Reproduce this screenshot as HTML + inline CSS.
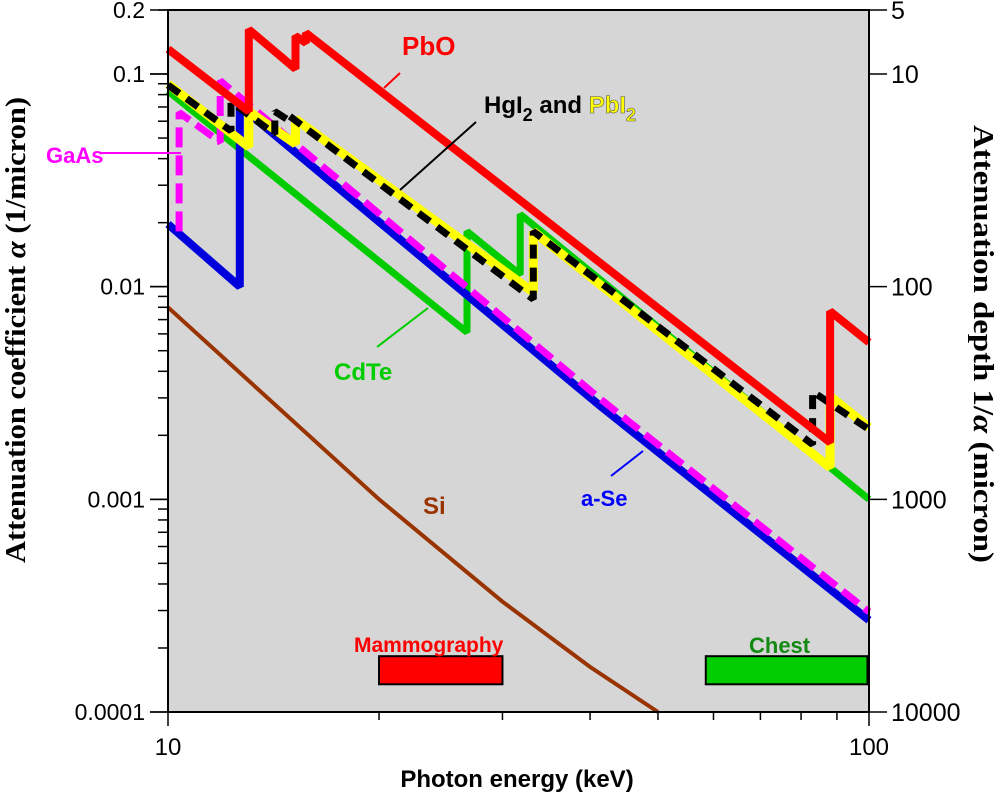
<!DOCTYPE html>
<html><head><meta charset="utf-8"><style>
body{margin:0;background:#fff;}
svg{display:block;}
text{font-family:"Liberation Sans",sans-serif;}
</style></head><body>
<svg id="chart" width="1000" height="796" viewBox="0 0 1000 796" xmlns="http://www.w3.org/2000/svg">
<rect x="168" y="10" width="701" height="702" fill="#d6d6d6"/>
<g id="marks"></g>
<rect x="168" y="10" width="701" height="702" fill="none" stroke="#000" stroke-width="2"/>
<g id="axes"></g>
<text x="517" y="787" font-size="24" font-weight="bold" text-anchor="middle">Photon energy (keV)</text>
<text transform="translate(25,330) rotate(-90)" font-size="29" font-weight="bold" text-anchor="middle" textLength="466" lengthAdjust="spacingAndGlyphs" style="font-family:'Liberation Serif',serif">Attenuation coefficient  <tspan font-style="italic">α</tspan>  (1/micron)</text>
<text transform="translate(974,344) rotate(90)" font-size="29" font-weight="bold" text-anchor="middle" textLength="438" lengthAdjust="spacingAndGlyphs" style="font-family:'Liberation Serif',serif">Attenuation depth  1/<tspan font-style="italic">α</tspan>  (micron)</text>
<g id="labels" font-weight="bold" font-size="24">
<line x1="400" y1="73" x2="384" y2="88" stroke="#f00" stroke-width="2"/>
<text x="402" y="55" fill="#f00" font-size="26">PbO</text>
<line x1="476" y1="122" x2="400" y2="190" stroke="#000" stroke-width="2"/>
<text x="484" y="113">HgI<tspan font-size="18" dy="8">2</tspan><tspan dy="-8"> and </tspan><tspan fill="#ff0" stroke="#555" stroke-width="0.6">PbI<tspan font-size="18" dy="8">2</tspan></tspan></text>
<line x1="100" y1="153" x2="181" y2="153" stroke="#f0f" stroke-width="2"/>
<text x="46" y="163" fill="#f0f" font-size="22">GaAs</text>
<line x1="377" y1="347" x2="428" y2="308" stroke="#00cc00" stroke-width="2"/>
<text x="334" y="380" fill="#00cc00">CdTe</text>
<line x1="611" y1="476" x2="643" y2="451" stroke="#00f" stroke-width="2"/>
<text x="581" y="506" fill="#00f" font-size="22">a-Se</text>
<text x="423" y="514" fill="#993300">Si</text>
<text x="354" y="652" fill="#f00" font-size="21">Mammography</text>
<text x="749" y="653" fill="#138a13" font-size="22">Chest</text>
</g>
</svg>
<script>
const x0=168,x1=869,yTop=10,yBot=712;
const xMin=10,xMax=100,yMin=0.0001,yMax=0.2;
const xTickLabels=["10","100"];
const yTickVals=[0.2,0.1,0.01,0.001,0.0001];
const yTickLabels=["0.2","0.1","0.01","0.001","0.0001"];
const rightTickLabels=["5","10","100","1000","10000"];
const pboE=[10,13.04,13.04,15.2,15.2,15.73,15.73,88,88,100];
const pboA=[0.131,0.0667,0.162,0.1057,0.151,0.140,0.156,0.00185,0.00766,0.00547];
const cdteE=[10,26.7,26.7,31.8,31.8,100];
const cdteA=[0.0832,0.0061,0.0182,0.0114,0.0219,0.001];
const seE=[10,12.66,12.66,41.3,100];
const seA=[0.0197,0.01,0.0708,0.00276,0.00027];
const gaasE=[10.37,10.37,11.87,11.87,41.3,100];
const gaasA=[0.0182,0.066,0.0478,0.093,0.00298,0.000296];
const pbi2E=[10,13.04,13.04,15.2,15.2,33.2,33.2,88,88,100];
const pbi2A=[0.0897,0.0454,0.0667,0.0469,0.0614,0.00942,0.0182,0.00141,0.00305,0.00218];
const hgi2E=[10,12.3,12.3,14.2,14.2,14.84,14.84,33.2,33.2,83.1,83.1,100];
const hgi2A=[0.0887,0.054,0.074,0.0522,0.0667,0.0608,0.0641,0.00873,0.0182,0.00181,0.00321,0.00213];
const siE=[10,20,30,40,50];
const siA=[0.008,0.001,0.00033,0.000163,0.0001];
const mammoRange=[20,30];
const chestRange=[58.5,99.5];
const bandA=[0.000135,0.000183];
function xs(e){return x0+(x1-x0)*Math.log10(e/xMin)/Math.log10(xMax/xMin);}
function ys(a){return yBot-(yBot-yTop)*Math.log10(a/yMin)/Math.log10(yMax/yMin);}
const NS="http://www.w3.org/2000/svg";
const marks=document.getElementById('marks'),axes=document.getElementById('axes');
function mk(tag,attrs,parent){const el=document.createElementNS(NS,tag);for(const k in attrs)el.setAttribute(k,attrs[k]);parent.appendChild(el);return el;}
function line(E,A,name,color,w,dash){
  const d=E.map((e,i)=>(i?'L':'M')+xs(e).toFixed(1)+','+ys(A[i]).toFixed(1)).join(' ');
  const p=mk('path',{d:d,fill:'none',stroke:color,'stroke-width':w,'stroke-linejoin':'miter','stroke-miterlimit':'2'},marks);
  if(dash)p.setAttribute('stroke-dasharray',dash);
  
  
}
function band(r,name,color){
  const xa=xs(r[0]),xb=xs(r[1]),ya=ys(bandA[1]),yb=ys(bandA[0]);
  const b=mk('rect',{x:xa,y:ya,width:xb-xa,height:yb-ya,fill:color,stroke:'#000','stroke-width':2},marks);
  
  
}
line(siE,siA,'si-line','#993300',4);
line(cdteE,cdteA,'cdte-line','#00cc00',7);
line(seE,seA,'ase-line','#0000dd',8);
line(gaasE,gaasA,'gaas-line','#ff00ff',7,'20 8');
line(pbi2E,pbi2A,'pbi2-line','#ffff00',9);
line(hgi2E,hgi2A,'hgi2-line','#000000',7,'14 9');
line(pboE,pboA,'pbo-line','#ff0000',8);
band(mammoRange,'mammography-band','#ff0000');
band(chestRange,'chest-band','#00cc00');
for(let d=10;d<=100;d+=10){
  const x=xs(d),major=(d===10||d===100);
  const t=mk('line',{x1:x,y1:yBot,x2:x,y2:yBot+(major?14:8),stroke:'#000','stroke-width':1.5},axes);
  
  
}
xTickLabels.forEach((s,i)=>{
  const t=mk('text',{x:xs([10,100][i]),y:755,'font-size':24,'text-anchor':'middle'},axes);t.textContent=s;
  
  
});
for(let p=-4;p<0;p++){for(let k=1;k<=9;k++){const v=k*Math.pow(10,p);if(v>yMax+1e-9)continue;
  const y=ys(v);const t=mk('line',{x1:x0,y1:y,x2:x0-(k===1?18:10),y2:y,stroke:'#000','stroke-width':1.5},axes);
  
  }}
yTickVals.forEach((v,i)=>{
  const y=ys(v);
  const tl=mk('line',{x1:x0-18,y1:y,x2:x0,y2:y,stroke:'#000','stroke-width':1.5},axes);
  
  
  const t=mk('text',{x:145,y:y+8,'font-size':23,'text-anchor':'end'},axes);t.textContent=yTickLabels[i];
  
  
  const tr=mk('line',{x1:x1,y1:y,x2:x1+18,y2:y,stroke:'#000','stroke-width':1.5},axes);
  
  
  const r=mk('text',{x:891,y:y+9,'font-size':25},axes);r.textContent=rightTickLabels[i];
  
  
});
</script>
</body></html>
